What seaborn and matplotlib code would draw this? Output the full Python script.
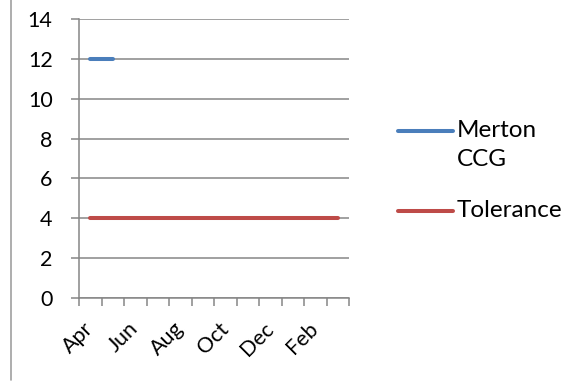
import numpy as np
import pandas as pd
import seaborn as sns
import matplotlib
matplotlib.use("Agg")
import matplotlib.pyplot as plt
from matplotlib.lines import Line2D
from matplotlib.ticker import FixedLocator

months = ["Apr", "May", "Jun", "Jul", "Aug", "Sep", "Oct", "Nov", "Dec", "Jan", "Feb", "Mar"]
merton_ccg = [12, 12, np.nan, np.nan, np.nan, np.nan, np.nan, np.nan, np.nan, np.nan, np.nan, np.nan]
tolerance = [4, 4, 4, 4, 4, 4, 4, 4, 4, 4, 4, 4]
series_names = ["Merton\nCCG", "Tolerance"]
y_ticks = [0, 2, 4, 6, 8, 10, 12, 14]

sns.set_style("white")
plt.rcParams["font.family"] = ["Lato", "DejaVu Sans"]
plt.rcParams["text.color"] = "black"
plt.rcParams["xtick.color"] = "black"
plt.rcParams["ytick.color"] = "black"

df = pd.DataFrame({
    "pos": list(range(len(months))) * 2,
    "value": merton_ccg + tolerance,
    "series": [series_names[0]] * len(months) + [series_names[1]] * len(months),
}).dropna()

W, H = 563, 383
fig = plt.figure(figsize=(W / 100, H / 100), dpi=100)
ax = fig.add_axes([79 / W, 1 - 298 / H, 270 / W, 279 / H])

palette = {series_names[0]: "#4A7EBB", series_names[1]: "#BE4B48"}
lw = 2.9
sns.lineplot(data=df, x="pos", y="value", hue="series", palette=palette,
             linewidth=lw, ax=ax, legend=False, solid_capstyle="round")

grid_c = "#868686"
tick_fs = 15.5
ax.set_xlim(-0.5, len(months) - 0.5)
ax.set_ylim(0, 14)
ax.set_yticks(y_ticks)
ax.yaxis.grid(True, color=grid_c, linewidth=1.1)
ax.set_axisbelow(True)
for s in ["top", "right"]:
    ax.spines[s].set_visible(False)
for s in ["left", "bottom"]:
    ax.spines[s].set_color(grid_c)
    ax.spines[s].set_linewidth(1.1)

# category labels every other month, tick marks at category boundaries
ax.set_xticks(range(0, len(months), 2))
ax.set_xticklabels(months[::2], rotation=45, ha="right", va="center",
                   rotation_mode="anchor", fontsize=tick_fs)
ax.xaxis.set_minor_locator(FixedLocator(np.arange(-0.5, len(months), 1)))
ax.tick_params(axis="x", which="major", length=0, pad=20)
ax.tick_params(axis="x", which="minor", bottom=True, length=6, color=grid_c,
               width=1.1, direction="out")
ax.tick_params(axis="y", length=6, color=grid_c, width=1.1, direction="out",
               labelsize=tick_fs, pad=13, left=True, labelcolor="black")
ax.set_xlabel("")
ax.set_ylabel("")

# legend: line sample beside the first text line of each entry
leg_items = [(series_names[0], 131), (series_names[1], 211)]
for name, yc in leg_items:
    fig.add_artist(Line2D([398 / W, 453 / W], [1 - yc / H, 1 - yc / H],
                          transform=fig.transFigure, color=palette[name],
                          linewidth=lw, solid_capstyle="round"))
    fig.text(457 / W, 1 - (yc - 11) / H, name, ha="left", va="top",
             fontsize=17.5, linespacing=1.45)

fig.add_artist(Line2D([11 / W, 11 / W], [1 - 380 / H, 1.0],
                      transform=fig.transFigure, color="#A0A0A0", linewidth=1.2))

fig.savefig("out.png", dpi=100, facecolor="white")
